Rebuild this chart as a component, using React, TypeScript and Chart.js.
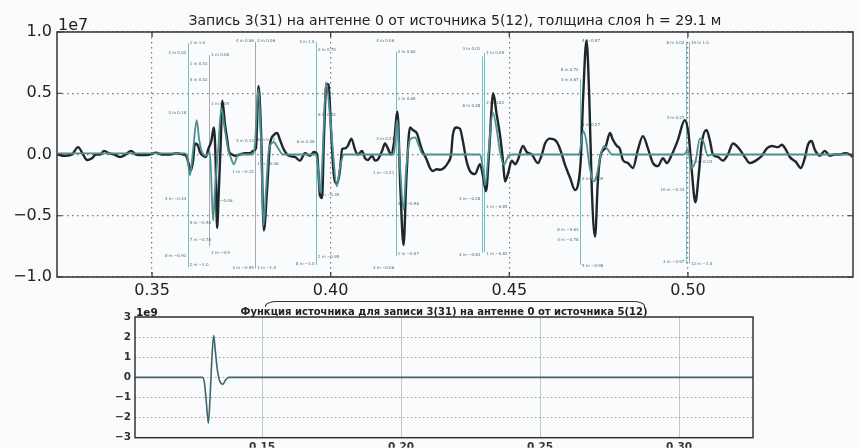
import React, { useEffect, useRef } from 'react';
import { Chart, registerables } from 'chart.js';

Chart.register(...registerables);

const FONT = '"DejaVu Sans", sans-serif';

const topTitle = 'Запись 3(31) на антенне 0 от источника 5(12), толщина слоя h = 29.1 м';
const bottomTitle = 'Функция источника для записи 3(31) на антенне 0 от источника 5(12)';
const topOffsetLabel = '1e7';
const bottomOffsetLabel = '1e9';

// recorded trace (black), time in s, amplitude in units of 1e7
const recordTime = [
  0.3236, 0.3248, 0.3259, 0.3276, 0.3293, 0.3307, 0.3318, 0.3332, 0.3343, 0.3354,
  0.3366, 0.338, 0.3394, 0.341, 0.3424, 0.3441, 0.3455, 0.3472, 0.3494, 0.3511,
  0.3528, 0.355, 0.3567, 0.3587, 0.3595, 0.3604, 0.3609, 0.3615, 0.362, 0.3629,
  0.3634, 0.3643, 0.3651, 0.3657, 0.3666, 0.3673, 0.3678, 0.3682, 0.3687, 0.3692,
  0.3697, 0.3704, 0.371, 0.3715, 0.3724, 0.3732, 0.3746, 0.376, 0.3774, 0.3783,
  0.3791, 0.3798, 0.3805, 0.3813, 0.3822, 0.383, 0.3841, 0.385, 0.3858, 0.3869,
  0.3883, 0.39, 0.3914, 0.3928, 0.3942, 0.3953, 0.3962, 0.397, 0.3976, 0.3981,
  0.3988, 0.3994, 0.4001, 0.4009, 0.4018, 0.4026, 0.4032, 0.404, 0.4048, 0.4058,
  0.4068, 0.4076, 0.4088, 0.4096, 0.4104, 0.4116, 0.4124, 0.4132, 0.4144, 0.4152,
  0.416, 0.4169, 0.4177, 0.4187, 0.4195, 0.4204, 0.4212, 0.4222, 0.423, 0.4242,
  0.425, 0.4258, 0.4267, 0.4278, 0.4286, 0.4297, 0.4306, 0.4317, 0.4328, 0.4337,
  0.4342, 0.4352, 0.4362, 0.437, 0.438, 0.439, 0.4404, 0.4418, 0.4426, 0.4435,
  0.4443, 0.4455, 0.4465, 0.4474, 0.4482, 0.4488, 0.4496, 0.4507, 0.4516, 0.4524,
  0.4538, 0.4549, 0.4563, 0.458, 0.4591, 0.46, 0.4614, 0.4631, 0.4642, 0.4656,
  0.467, 0.4684, 0.4692, 0.47, 0.4707, 0.4716, 0.4724, 0.4731, 0.474, 0.4748,
  0.4756, 0.4768, 0.4782, 0.479, 0.4801, 0.4809, 0.4818, 0.4832, 0.4846, 0.486,
  0.4874, 0.4888, 0.4902, 0.4916, 0.493, 0.4941, 0.4955, 0.4972, 0.4991, 0.5002,
  0.501, 0.5021, 0.503, 0.5039, 0.5052, 0.5061, 0.507, 0.5084, 0.5098, 0.5112,
  0.5126, 0.5145, 0.5159, 0.5173, 0.519, 0.5207, 0.5221, 0.5235, 0.5252, 0.5263,
  0.5274, 0.5285, 0.5302, 0.5316, 0.5327, 0.5336, 0.5346, 0.5355, 0.5369, 0.5383,
  0.5397, 0.5411, 0.5425, 0.5439, 0.5453, 0.5461,
];
const recordValue = [
  0.0, -0.01, -0.01, 0.0, 0.06, 0.0, -0.045, -0.03, 0.0, 0.0,
  0.03, 0.01, 0.0, -0.02, -0.005, 0.03, 0.0, -0.005, 0.0, 0.015,
  0.0, 0.0, 0.01, 0.0, -0.01, -0.09, -0.13, -0.05, 0.09, 0.07,
  0.02, -0.01, -0.02, 0.04, 0.11, 0.22, -0.05, -0.6, -0.29, 0.08,
  0.44, 0.25, 0.13, 0.03, 0.0, -0.01, 0.0, 0.01, 0.01, 0.03,
  0.05, 0.56, 0.2, -0.62, -0.29, 0.08, 0.16, 0.175, 0.12, 0.04,
  -0.01, -0.02, -0.05, 0.01, -0.01, 0.02, 0.0, -0.33, -0.355, 0.12,
  0.575, 0.57, 0.2, -0.17, -0.24, -0.13, 0.045, 0.05, 0.07, 0.13,
  0.04, 0.0, 0.03, -0.03, -0.045, -0.01, -0.05, -0.04, 0.03, 0.09,
  0.05, 0.0, 0.09, 0.35, -0.27, -0.74, -0.19, 0.22, 0.2, 0.17,
  0.09, 0.02, -0.03, -0.11, -0.135, -0.12, -0.125, -0.11, -0.07, 0.0,
  0.16, 0.22, 0.21, 0.11, -0.05, -0.135, -0.16, -0.08, -0.17, -0.3,
  0.0, 0.5, 0.32, 0.16, -0.045, -0.22, -0.16, -0.05, -0.08, -0.045,
  0.07, 0.02, 0.0, -0.07, 0.0, 0.09, 0.13, 0.11, 0.045, -0.085,
  -0.19, -0.29, -0.25, -0.045, 0.49, 0.93, 0.45, -0.29, -0.67, -0.21,
  0.0, 0.05, 0.175, 0.12, 0.07, 0.05, -0.045, -0.07, -0.11, 0.04,
  0.15, 0.05, -0.07, -0.095, -0.03, -0.07, 0.0, 0.12, 0.28, 0.16,
  -0.11, -0.39, -0.17, 0.1, 0.2, 0.12, 0.0, -0.02, -0.05, 0.0,
  0.09, 0.04, -0.02, -0.07, -0.05, -0.01, 0.05, 0.07, 0.06, 0.08,
  0.04, -0.02, -0.06, -0.11, -0.03, 0.08, 0.11, 0.04, -0.01, 0.03,
  -0.01, 0.0, 0.0, 0.01, 0.0, -0.02,
];

// modelled trace (teal)
const modelTime = [
  0.3236, 0.3592, 0.3598, 0.3606, 0.3615, 0.3625, 0.3632, 0.364, 0.3651, 0.3662,
  0.3671, 0.3676, 0.3685, 0.3694, 0.3703, 0.3713, 0.3721, 0.3729, 0.3741, 0.378,
  0.3788, 0.3797, 0.3805, 0.3812, 0.3819, 0.3827, 0.3841, 0.3853, 0.3867, 0.3959,
  0.3964, 0.3971, 0.3978, 0.3987, 0.3998, 0.4006, 0.4017, 0.4026, 0.4037, 0.4177,
  0.4186, 0.4194, 0.4204, 0.4211, 0.4222, 0.4236, 0.4247, 0.4258, 0.4418, 0.4426,
  0.4433, 0.444, 0.4454, 0.4465, 0.4474, 0.4485, 0.4496, 0.4507, 0.4695, 0.4707,
  0.4715, 0.4724, 0.4735, 0.4743, 0.4754, 0.4765, 0.4776, 0.4787, 0.4989, 0.5,
  0.501, 0.5022, 0.5033, 0.5044, 0.5055, 0.5066, 0.5461,
];
const modelValue = [
  0.01, 0.01, -0.01, -0.17, 0.04, 0.28, 0.12, 0.02, -0.01, 0.02,
  -0.54, -0.29, 0.04, 0.38, 0.22, 0.04, -0.03, -0.08, 0.0, 0.0,
  0.08, 0.53, 0.12, -0.58, -0.29, 0.04, 0.1, 0.05, 0.0, 0.0,
  -0.09, -0.31, 0.04, 0.59, 0.32, 0.04, -0.26, -0.11, 0.0, 0.0,
  0.28, -0.09, -0.45, -0.13, 0.12, 0.14, 0.07, 0.0, 0.0, -0.11,
  -0.25, -0.045, 0.34, 0.2, 0.02, -0.085, -0.02, 0.0, 0.0, 0.19,
  0.12, -0.085, -0.22, -0.19, -0.03, 0.07, 0.04, 0.0, 0.0, 0.04,
  -0.11, -0.045, 0.13, 0.1, -0.01, 0.0, 0.0,
];

// source wavelet, time in s, amplitude in units of 1e9
const sourceTime = [
  0.1043, 0.1287, 0.1293, 0.13, 0.1307, 0.1313, 0.1319, 0.1326, 0.1332, 0.134,
  0.135, 0.1359, 0.1368, 0.1379, 0.3266,
];
const sourceValue = [
  0, 0, -0.3, -1.3, -2.28, -1.0, 0.8, 2.08, 1.3, 0.3,
  -0.25, -0.34, -0.15, 0, 0,
];

const topXTicks = [0.35, 0.4, 0.45, 0.5];
const topYTicks = [-1, -0.5, 0, 0.5, 1];
const bottomXTicks = [0.15, 0.2, 0.25, 0.3];
const bottomYTicks = [-3, -2, -1, 0, 1, 2, 3];

// picked arrivals: vertical marker lines
const markerTime = [0.36, 0.366, 0.3789, 0.3959, 0.4182, 0.4423, 0.443, 0.4698, 0.4994, 0.5003];
const markerTop = [0.91, 0.81, 0.92, 0.92, 0.84, 0.8, 0.83, 0.62, 0.92, 0.92];
const markerBottom = [-0.92, -0.75, -0.93, -0.9, -0.83, -0.8, -0.8, -0.9, -0.89, -0.89];

// small notes beside marker lines
const noteLine = [
  0, 0, 0, 0, 0, 1, 1, 2, 2, 2, 2, 3, 3, 3, 3, 4, 4, 4, 4,
  0, 0, 0, 0, 0, 1, 1, 2, 2, 2, 2, 3, 3, 3, 4, 4, 4, 4,
  5, 6, 5, 6, 7, 7, 7, 7, 8, 9, 8,
  5, 6, 5, 6, 7, 7, 7, 7, 8, 9, 8, 9,
];
const noteSide = [
  -1, 1, 1, 1, -1, 1, 1, -1, 1, -1, 1, -1, 1, 1, -1, -1, 1, 1, -1,
  -1, 1, 1, -1, 1, 1, 1, -1, -1, 1, 1, -1, 1, 1, -1, 1, -1, 1,
  -1, 1, -1, 1, -1, -1, 1, 1, -1, 1, -1,
  -1, 1, -1, 1, 1, -1, -1, 1, -1, 1, -1, 1,
];
const noteValue = [
  0.83, 0.91, 0.74, 0.61, 0.34, 0.81, 0.41, 0.93, 0.93, 0.11, 0.12, 0.92, 0.85, 0.32, 0.1, 0.93, 0.84, 0.45, 0.13,
  -0.36, -0.56, -0.7, -0.83, -0.9, -0.38, -0.8, -0.14, -0.93, -0.93, -0.08, -0.89, -0.33, -0.84, -0.93, -0.81, -0.15, -0.4,
  0.86, 0.83, 0.4, 0.42, 0.69, 0.61, 0.93, 0.24, 0.91, 0.91, 0.3,
  -0.36, -0.43, -0.82, -0.81, -0.2, -0.62, -0.7, -0.91, -0.29, -0.06, -0.88, -0.89,
];
const noteText = [
  '3 m 0.02', '1 m 1.0', '1 m 0.01', '4 m 0.02', '3 m 0.18', '1 m 0.08', '1 m 0.05', '4 m 0.06', '2 m 0.06', '3 m 0.13',
  '6 m 0.12', '3 m 1.0', '2 m 0.79', '6 m 0.52', '6 m 0.06', '4 m 0.06', '2 m 0.60', '1 m 0.65', '3 m 0.23',
  '4 m −0.43', '5 m −0.58', '7 m −0.78', '8 m −0.91', '2 m −1.0', '2 m −0.46', '2 m −0.9', '1 m −0.12', '2 m −0.99',
  '1 m −1.0', '1 m −0.06', '8 m −1.0', '4 m −0.35', '2 m −0.95', '3 m −0.06', '1 m −0.07', '1 m −0.21', '2 m −0.96',
  '3 m 0.01', '1 m 0.09', '8 m 0.48', '2 m 0.82', '8 m 0.72', '3 m 0.67', '4 m 0.97', '1 m 0.27', '8 m 0.02',
  '10 m 1.0', '3 m 0.27',
  '3 m −0.28', '1 m −0.85', '4 m −0.83', '1 m −0.82', '2 m −0.09', '8 m −0.63', '3 m −0.78', '5 m −0.98',
  '10 m −0.33', '3 m −0.03', '3 m −0.97', '12 m −1.0',
];

const fmtSigned = (v: number, d: number) => {
  const s = Math.abs(v).toFixed(d);
  return v < -1e-9 ? '\u2212' + s : s;
};

const toXY = (xs: number[], ys: number[]) => xs.map((x, i) => ({ x, y: ys[i] }));

const boxPlugin = (opts: {
  title: string;
  titleFont: string;
  titleGap: number;
  offset: string;
  offsetFont: string;
  offsetGap: number;
  innerTicks: boolean;
}) => ({
  id: 'boxDecor',
  afterDraw(chart: any) {
    const { ctx, chartArea: a } = chart;
    ctx.save();
    ctx.strokeStyle = '#333';
    ctx.lineWidth = 1.5;
    ctx.strokeRect(a.left, a.top, a.right - a.left, a.bottom - a.top);
    if (opts.innerTicks) {
      ctx.lineWidth = 1.2;
      const xs = chart.scales.x;
      const ys = chart.scales.y;
      ctx.beginPath();
      for (const t of xs.ticks) {
        const px = xs.getPixelForValue(t.value);
        ctx.moveTo(px, a.top);
        ctx.lineTo(px, a.top + 5);
        ctx.moveTo(px, a.bottom);
        ctx.lineTo(px, a.bottom - 5);
      }
      for (const t of ys.ticks) {
        const py = ys.getPixelForValue(t.value);
        ctx.moveTo(a.left, py);
        ctx.lineTo(a.left + 5, py);
        ctx.moveTo(a.right, py);
        ctx.lineTo(a.right - 5, py);
      }
      ctx.stroke();
    }
    ctx.fillStyle = '#222';
    ctx.font = opts.titleFont;
    ctx.textAlign = 'center';
    ctx.textBaseline = 'alphabetic';
    ctx.fillText(opts.title, (a.left + a.right) / 2, a.top - opts.titleGap);
    ctx.font = opts.offsetFont;
    ctx.textAlign = 'left';
    ctx.fillText(opts.offset, a.left + 1, a.top - opts.offsetGap);
    ctx.restore();
  },
});

const markerPlugin = {
  id: 'markers',
  beforeDatasetsDraw(chart: any) {
    const { ctx } = chart;
    const xs = chart.scales.x;
    const ys = chart.scales.y;
    ctx.save();
    ctx.strokeStyle = '#8db4b7';
    ctx.lineWidth = 1;
    markerTime.forEach((t, i) => {
      const px = Math.round(xs.getPixelForValue(t)) + 0.5;
      ctx.beginPath();
      ctx.moveTo(px, ys.getPixelForValue(markerTop[i]));
      ctx.lineTo(px, ys.getPixelForValue(markerBottom[i]));
      ctx.stroke();
    });
    ctx.font = '4px ' + FONT;
    ctx.fillStyle = '#4f6a6e';
    ctx.textBaseline = 'middle';
    noteText.forEach((txt, i) => {
      const px = xs.getPixelForValue(markerTime[noteLine[i]]);
      const py = ys.getPixelForValue(noteValue[i]);
      if (noteSide[i] < 0) {
        ctx.textAlign = 'right';
        ctx.fillText(txt, px - 1.5, py);
      } else {
        ctx.textAlign = 'left';
        ctx.fillText(txt, px + 2, py);
      }
    });
    ctx.restore();
  },
};

function TopChart() {
  const ref = useRef<HTMLCanvasElement>(null);
  useEffect(() => {
    const chart = new Chart(ref.current as HTMLCanvasElement, {
      type: 'line',
      data: {
        datasets: [
          {
            data: toXY(modelTime, modelValue),
            borderColor: '#4f8e93',
            borderWidth: 1.8,
            pointRadius: 0,
            cubicInterpolationMode: 'monotone',
          },
          {
            data: toXY(recordTime, recordValue),
            borderColor: '#1f2729',
            borderWidth: 2.4,
            pointRadius: 0,
            cubicInterpolationMode: 'monotone',
          },
        ],
      },
      options: {
        animation: false,
        responsive: false,
        devicePixelRatio: 1,
        parsing: false,
        normalized: true,
        layout: { padding: { top: 32, right: 7, left: 0, bottom: 0 } },
        plugins: { legend: { display: false }, tooltip: { enabled: false }, title: { display: false } },
        scales: {
          x: {
            type: 'linear',
            min: 0.3234,
            max: 0.5462,
            afterBuildTicks: (s: any) => {
              s.ticks = topXTicks.map((v) => ({ value: v }));
            },
            afterFit: (s: any) => {
              s.height = 23;
            },
            ticks: {
              callback: (v: any) => Number(v).toFixed(2),
              font: { family: FONT, size: 16 },
              color: '#222',
              padding: 4,
              maxRotation: 0,
              autoSkip: false,
            },
            grid: { color: '#7a7a7a', lineWidth: 1.2, drawTicks: false },
            border: { display: false, dash: [1.5, 3.5] },
          },
          y: {
            type: 'linear',
            min: -1,
            max: 1,
            afterBuildTicks: (s: any) => {
              s.ticks = topYTicks.map((v) => ({ value: v }));
            },
            afterFit: (s: any) => {
              s.width = 57;
            },
            ticks: {
              callback: (v: any) => fmtSigned(Number(v), 1),
              font: { family: FONT, size: 16 },
              color: '#222',
              padding: 5,
            },
            grid: { color: '#7a7a7a', lineWidth: 1.2, drawTicks: false },
            border: { display: false, dash: [1.5, 3.5] },
          },
        },
      },
      plugins: [
        markerPlugin,
        boxPlugin({
          title: topTitle,
          titleFont: '14px ' + FONT,
          titleGap: 7,
          offset: topOffsetLabel,
          offsetFont: '16px ' + FONT,
          offsetGap: 2,
          innerTicks: true,
        }),
      ],
    } as any);
    return () => chart.destroy();
  }, []);
  return <canvas ref={ref} width={860} height={300} style={{ position: 'absolute', left: 0, top: 0, width: 860, height: 300 }} />;
}

function BottomChart() {
  const ref = useRef<HTMLCanvasElement>(null);
  useEffect(() => {
    const chart = new Chart(ref.current as HTMLCanvasElement, {
      type: 'line',
      data: {
        datasets: [
          {
            data: toXY(sourceTime, sourceValue),
            borderColor: '#3b666d',
            borderWidth: 1.6,
            pointRadius: 0,
            cubicInterpolationMode: 'monotone',
          },
        ],
      },
      options: {
        animation: false,
        responsive: false,
        devicePixelRatio: 1,
        parsing: false,
        layout: { padding: { top: 17, right: 107, left: 0, bottom: 0 } },
        plugins: { legend: { display: false }, tooltip: { enabled: false }, title: { display: false } },
        scales: {
          x: {
            type: 'linear',
            min: 0.1043,
            max: 0.3266,
            afterBuildTicks: (s: any) => {
              s.ticks = bottomXTicks.map((v) => ({ value: v }));
            },
            afterFit: (s: any) => {
              s.height = 10;
            },
            ticks: {
              callback: (v: any) => Number(v).toFixed(2),
              font: { family: FONT, size: 10.5, weight: 'bold' },
              color: '#333',
              padding: 3,
              maxRotation: 0,
              autoSkip: false,
            },
            grid: { color: '#c4c7c8', lineWidth: 1, drawTicks: false },
            border: { display: false },
          },
          y: {
            type: 'linear',
            min: -3,
            max: 3,
            afterBuildTicks: (s: any) => {
              s.ticks = bottomYTicks.map((v) => ({ value: v }));
            },
            afterFit: (s: any) => {
              s.width = 135;
            },
            ticks: {
              callback: (v: any) => fmtSigned(Number(v), 0),
              font: { family: FONT, size: 10.5, weight: 'bold' },
              color: '#333',
              padding: 4,
            },
            grid: { color: '#9a9d9e', lineWidth: 1, drawTicks: false },
            border: { display: false, dash: [1.5, 2.5] },
          },
        },
      },
      plugins: [
        boxPlugin({
          title: bottomTitle,
          titleFont: 'bold 10px ' + FONT,
          titleGap: 2,
          offset: bottomOffsetLabel,
          offsetFont: 'bold 10.5px ' + FONT,
          offsetGap: 1,
          innerTicks: false,
        }),
      ],
    } as any);
    return () => chart.destroy();
  }, []);
  return <canvas ref={ref} width={860} height={148} style={{ position: 'absolute', left: 0, top: 300, width: 860, height: 148 }} />;
}

export default function App() {
  return (
    <div style={{ position: 'absolute', left: 0, top: 0, width: 860, height: 448, background: '#f9fbfc', overflow: 'hidden' }}>
      <TopChart />
      <div
        style={{
          position: 'absolute',
          left: 265,
          top: 301,
          width: 378,
          height: 5,
          borderTop: '1.5px solid #333',
          borderLeft: '1.5px solid #333',
          borderRight: '1.5px solid #333',
          borderRadius: '12px 12px 0 0 / 5px 5px 0 0',
        }}
      />
      <BottomChart />
    </div>
  );
}
